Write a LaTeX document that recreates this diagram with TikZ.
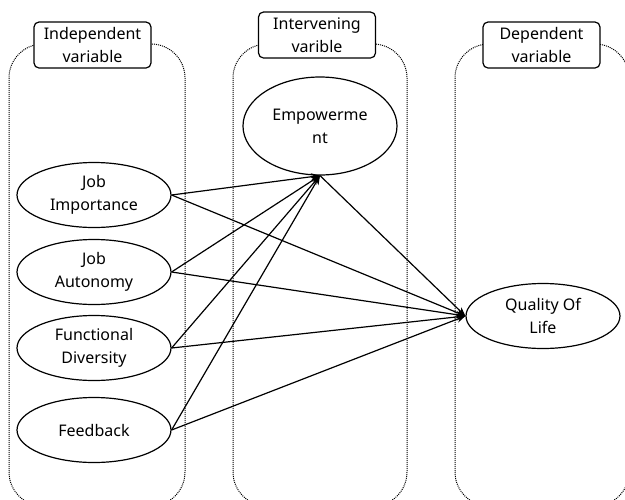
\documentclass[tikz,border=0pt]{standalone}
\usepackage{fontspec}
\setmainfont{Noto Sans}
\usetikzlibrary{shapes.geometric,arrows.meta}
\tikzset{
  col/.style={draw, densely dotted, line width=1pt, rounded corners=34},
  lab/.style={draw, fill=white, rounded corners=5, line width=1.2pt, align=center, inner sep=0pt,
    minimum width=117, minimum height=46},
  var/.style={draw, ellipse, line width=1.2pt, align=center, inner sep=0pt, minimum width=154, minimum height=65},
  arr/.style={line width=1.2pt, -{Stealth[length=9,width=7]}}
}
\begin{document}
\begin{tikzpicture}[x=1pt,y=-1pt, font=\fontsize{16}{23}\selectfont]
\useasboundingbox (0,0) rectangle (625,499);
\begin{scope}
\clip (0,0) rectangle (625,499);
\draw[col] (9,44) rectangle (185,506);
\draw[col] (233,44) rectangle (407,506);
\draw[col] (455,44) rectangle (629,506);
\end{scope}
\node[lab] (l1) at (92.5,45) {Independent\\variable};
\node[lab] (l2) at (317,35) {Intervening\\varible};
\node[lab] (l3) at (541.5,45) {Dependent\\variable};

\node[var] (ji) at (94,195) {Job\\Importance};
\node[var] (ja) at (94,272) {Job\\Autonomy};
\node[var] (fd) at (94,348) {Functional\\Diversity};
\node[var] (fb) at (94,430) {Feedback};
\node[var, minimum height=98] (em) at (320,126) {Empowerme\\nt};
\node[var] (ql) at (543,316) {Quality Of\\Life};

\foreach \s in {ji,ja,fd,fb}{
  \draw[arr] (\s.east) -- (em.south);
  \draw[arr] (\s.east) -- (ql.west);
}
\draw[arr] (em.south) -- (ql.west);
\end{tikzpicture}
\end{document}
